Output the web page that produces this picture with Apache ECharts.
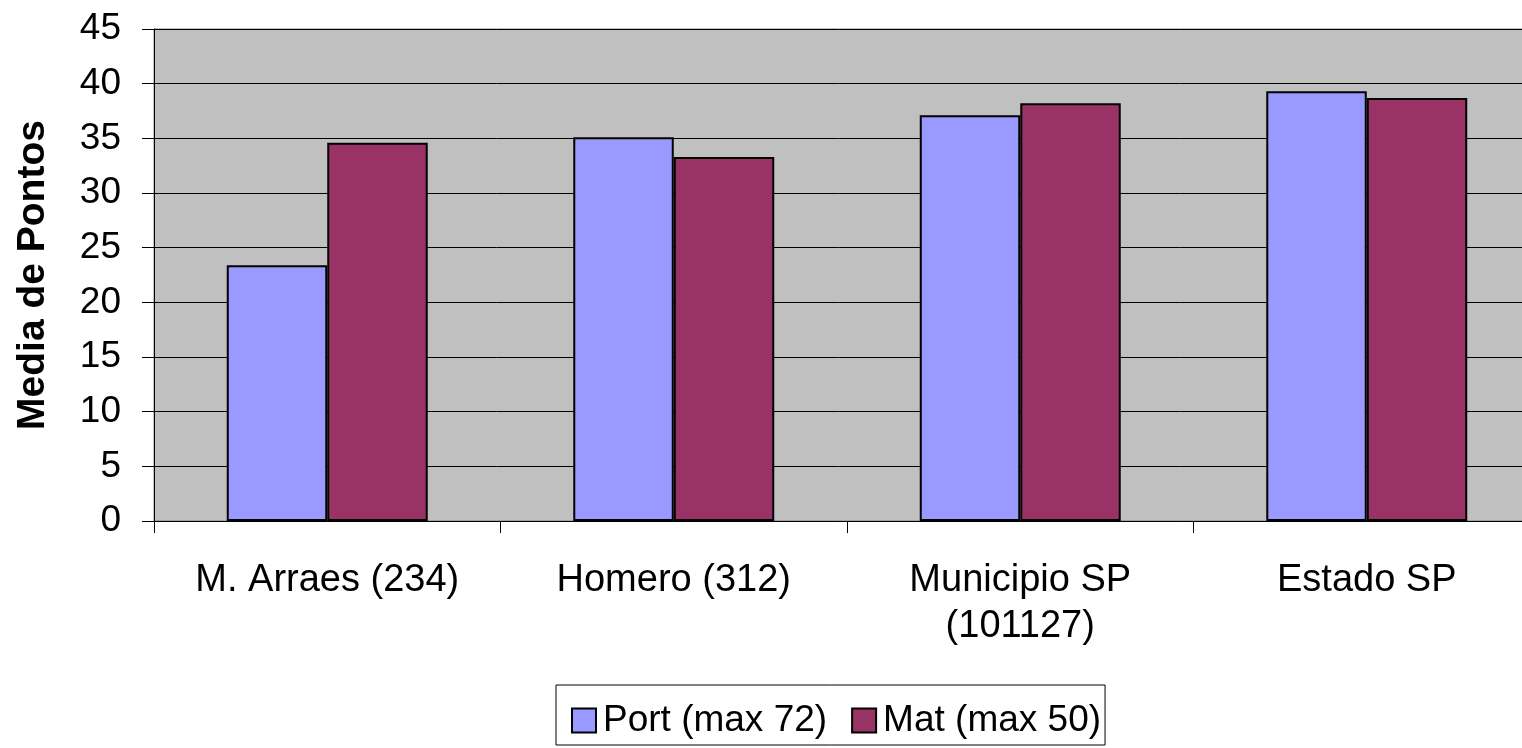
<!DOCTYPE html>
<html><head><meta charset="utf-8">
<script src="https://cdn.jsdelivr.net/npm/echarts@6/dist/echarts.min.js"></script>
<style>html,body{margin:0;padding:0;background:#fff}#c{width:1522px;height:748px}</style>
</head><body><div id="c"></div>
<script>
const categories = ['M. Arraes (234)', 'Homero (312)', 'Municipio SP\n(101127)', 'Estado SP'];
const portValues = [23.4, 35.1, 37.1, 39.3];
const matValues = [34.6, 33.3, 38.2, 38.7];
const seriesNames = ['Port (max 72)', 'Mat (max 50)'];

const chart = echarts.init(document.getElementById('c'));
const font = 'Liberation Sans, Arial, sans-serif';
chart.setOption({
  animation: false,
  textStyle: { fontFamily: font },
  grid: { left: 154, top: 29, width: 1386, bottom: 227, outerBoundsMode: 'none', containLabel: false,
    show: true, backgroundColor: '#C0C0C0', borderColor: '#808080', borderWidth: 1 },
  legend: {
    left: 556, top: 685,
    padding: [17, 4, 6, 15],
    borderColor: '#000', borderWidth: 1,
    itemWidth: 24, itemHeight: 24, itemGap: 24,
    icon: 'rect',
    textStyle: { fontSize: 37, color: '#000', fontFamily: font, padding: [0, 0, 0, 2] },
    data: seriesNames
  },
  xAxis: {
    type: 'category', data: categories,
    axisLine: { lineStyle: { color: '#000', width: 1 } },
    axisTick: { show: true, length: 12, lineStyle: { color: '#000' } },
    axisLabel: { fontSize: 38, color: '#000', margin: 37, lineHeight: 46, fontFamily: font },
    splitLine: { show: false }
  },
  yAxis: {
    type: 'value', min: 0, max: 45, interval: 5,
    name: 'Media de Pontos', nameLocation: 'middle', nameGap: 101, nameRotate: 90,
    nameTextStyle: { fontSize: 39, fontWeight: 'bold', color: '#000', fontFamily: font },
    axisLine: { show: true, lineStyle: { color: '#000', width: 1 } },
    axisTick: { show: true, length: 12, lineStyle: { color: '#000' } },
    axisLabel: { fontSize: 37, color: '#000', margin: 33, fontFamily: font },
    splitLine: { show: true, lineStyle: { color: '#000', width: 1 } }
  },
  series: [
    { name: seriesNames[0], type: 'bar', data: portValues, barGap: '0%', barCategoryGap: '42%',
      itemStyle: { color: '#9999FF', borderColor: '#000', borderWidth: 2 } },
    { name: seriesNames[1], type: 'bar', data: matValues,
      itemStyle: { color: '#993366', borderColor: '#000', borderWidth: 2 } }
  ]
});
</script></body></html>
